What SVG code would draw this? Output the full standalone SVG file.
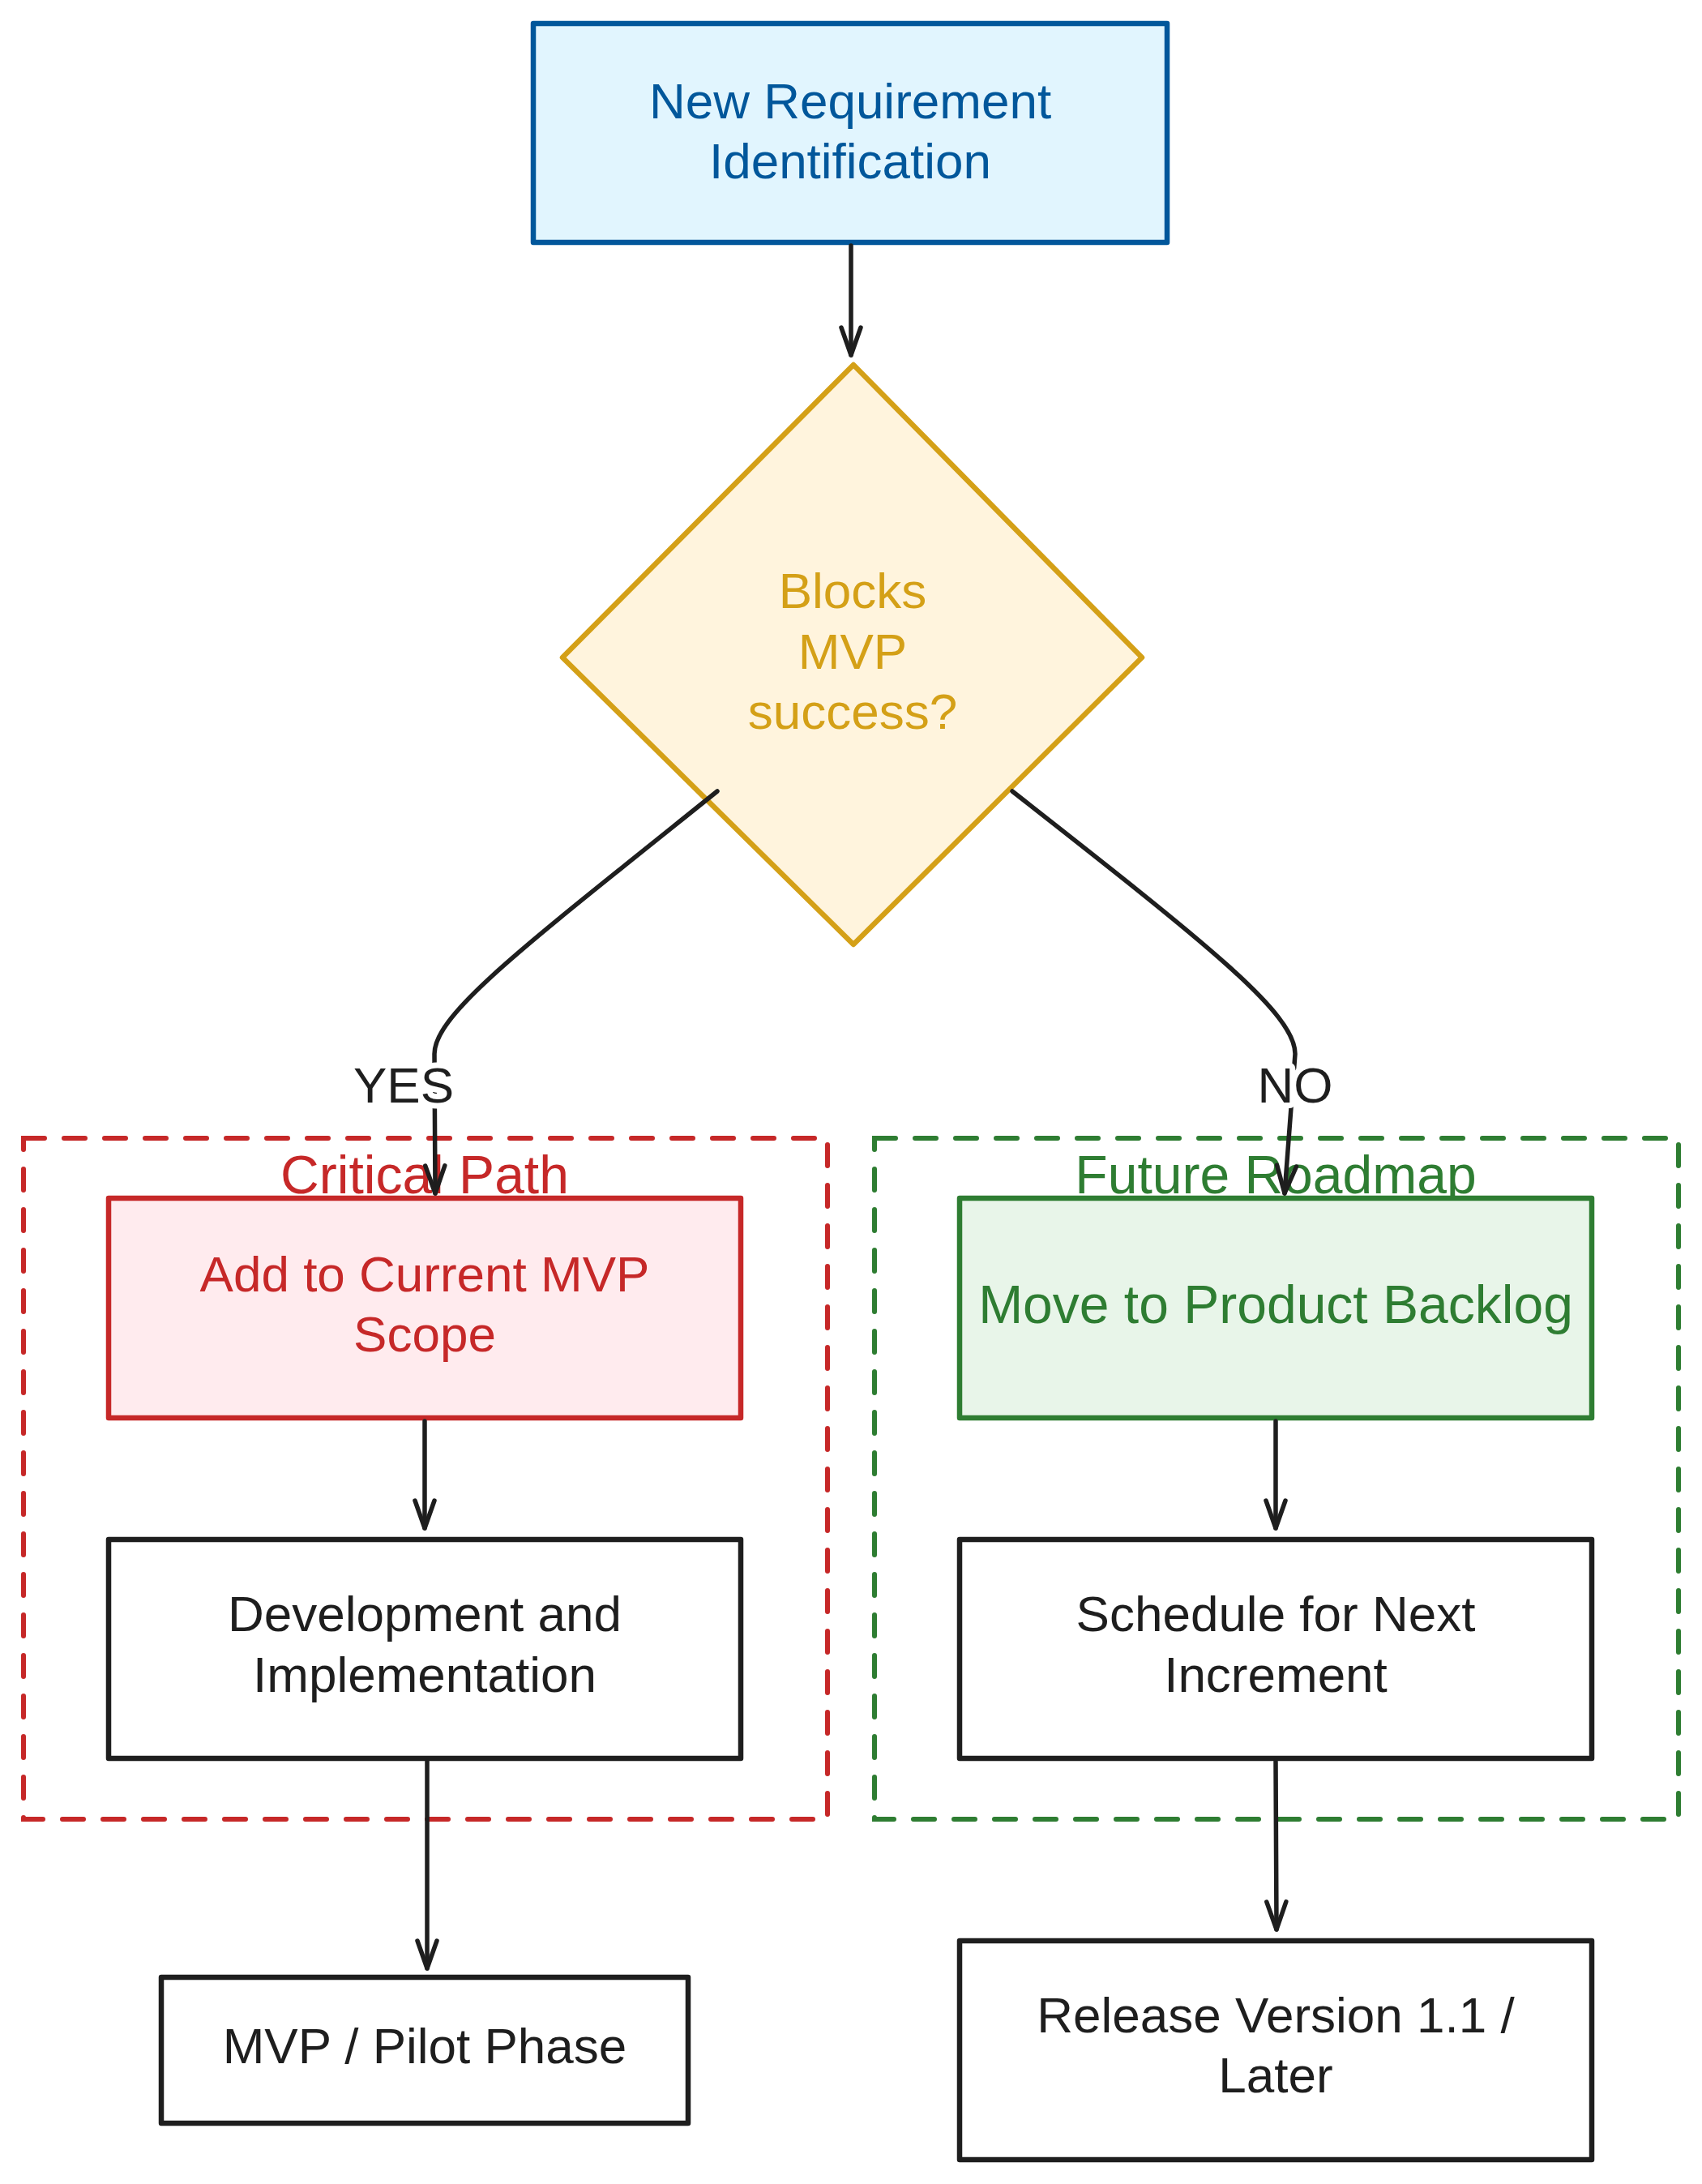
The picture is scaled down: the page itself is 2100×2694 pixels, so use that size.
<svg xmlns="http://www.w3.org/2000/svg" width="2100" height="2694" viewBox="0 0 2100 2694">
<style>
  .t { font-family: "Liberation Sans", Arial, sans-serif; font-size: 62px; text-anchor: middle; }
  .big { font-size: 66px; }
  .node { stroke-width: 6.5; stroke-linejoin: round; }
  .plain { fill: #ffffff; stroke: #1e1e1e; }
  .dk { fill: #1e1e1e; }
  .grp { fill: none; stroke-width: 6; stroke-dasharray: 26 24; stroke-linecap: round; }
  .conn { fill: none; stroke: #1e1e1e; stroke-width: 5.5; stroke-linecap: round; stroke-linejoin: round; }
  .lbl { fill: #1e1e1e; stroke: #ffffff; stroke-width: 14; paint-order: stroke; stroke-linejoin: round; }
</style>
<defs>
  <marker id="ah" markerUnits="userSpaceOnUse" markerWidth="60" markerHeight="60" viewBox="-45 -30 60 60" refX="0" refY="0" orient="auto">
    <path d="M -34 -12 L 0 0 L -34 12" fill="none" stroke="#1e1e1e" stroke-width="5.5" stroke-linecap="round" stroke-linejoin="round"/>
  </marker>
</defs>
<rect width="2100" height="2694" fill="#ffffff"/>

<g id="group-critical">
  <rect class="grp" x="29" y="1404" width="992" height="840" stroke="#c62828"/>
  <text class="t big" x="524" y="1472" fill="#c62828">Critical Path</text>
</g>
<g id="group-future">
  <rect class="grp" x="1079" y="1404" width="992" height="840" stroke="#2e7d32"/>
  <text class="t big" x="1574" y="1472" fill="#2e7d32">Future Roadmap</text>
</g>

<g id="node-new-requirement">
  <rect class="node" x="658" y="29" width="782" height="270" fill="#e1f5fe" stroke="#01579b"/>
  <text class="t" x="1049" y="146" fill="#01579b">New Requirement</text>
  <text class="t" x="1049" y="220" fill="#01579b">Identification</text>
</g>

<g id="node-decision">
  <polygon class="node" points="1053,450 1409,811 1053,1165 694,811" fill="#fff4dd" stroke="#d4a017"/>
  <text class="t" x="1052" y="750" fill="#d4a017">Blocks</text>
  <text class="t" x="1052" y="825" fill="#d4a017">MVP</text>
  <text class="t" x="1052" y="899" fill="#d4a017">success?</text>
</g>

<g id="node-add-mvp">
  <rect class="node" x="134" y="1478" width="780" height="271" fill="#ffebee" stroke="#c62828"/>
  <text class="t" x="524" y="1593" fill="#c62828">Add to Current MVP</text>
  <text class="t" x="524" y="1667" fill="#c62828">Scope</text>
</g>

<g id="node-backlog">
  <rect class="node" x="1184" y="1478" width="780" height="271" fill="#e8f5e9" stroke="#2e7d32"/>
  <text class="t big" x="1574" y="1632" fill="#2e7d32">Move to Product Backlog</text>
</g>

<g id="node-development">
  <rect class="node plain" x="134" y="1899" width="780" height="270"/>
  <text class="t dk" x="524" y="2012">Development and</text>
  <text class="t dk" x="524" y="2087">Implementation</text>
</g>

<g id="node-schedule">
  <rect class="node plain" x="1184" y="1899" width="780" height="270"/>
  <text class="t dk" x="1574" y="2012">Schedule for Next</text>
  <text class="t dk" x="1574" y="2087">Increment</text>
</g>

<g id="node-mvp-pilot">
  <rect class="node plain" x="199" y="2439" width="650" height="180"/>
  <text class="t dk" x="524" y="2545">MVP / Pilot Phase</text>
</g>

<g id="node-release">
  <rect class="node plain" x="1184" y="2394" width="780" height="270"/>
  <text class="t dk" x="1574" y="2507">Release Version 1.1 /</text>
  <text class="t dk" x="1574" y="2581">Later</text>
</g>

<g id="connectors">
  <path class="conn" d="M 1050 303 L 1050 438" marker-end="url(#ah)"/>
  <path class="conn" d="M 885 976 C 650 1165 536 1250 536 1300 L 537 1472" marker-end="url(#ah)"/>
  <path class="conn" d="M 1249 976 C 1490 1165 1598 1250 1598 1300 L 1585 1472" marker-end="url(#ah)"/>
  <path class="conn" d="M 524 1753 L 524 1885" marker-end="url(#ah)"/>
  <path class="conn" d="M 1574 1753 L 1574 1885" marker-end="url(#ah)"/>
  <path class="conn" d="M 527 2173 L 527 2428" marker-end="url(#ah)"/>
  <path class="conn" d="M 1574 2173 L 1575 2380" marker-end="url(#ah)"/>
  <text class="t lbl" x="498" y="1360">YES</text>
  <text class="t lbl" x="1598" y="1360">NO</text>
</g>
</svg>
